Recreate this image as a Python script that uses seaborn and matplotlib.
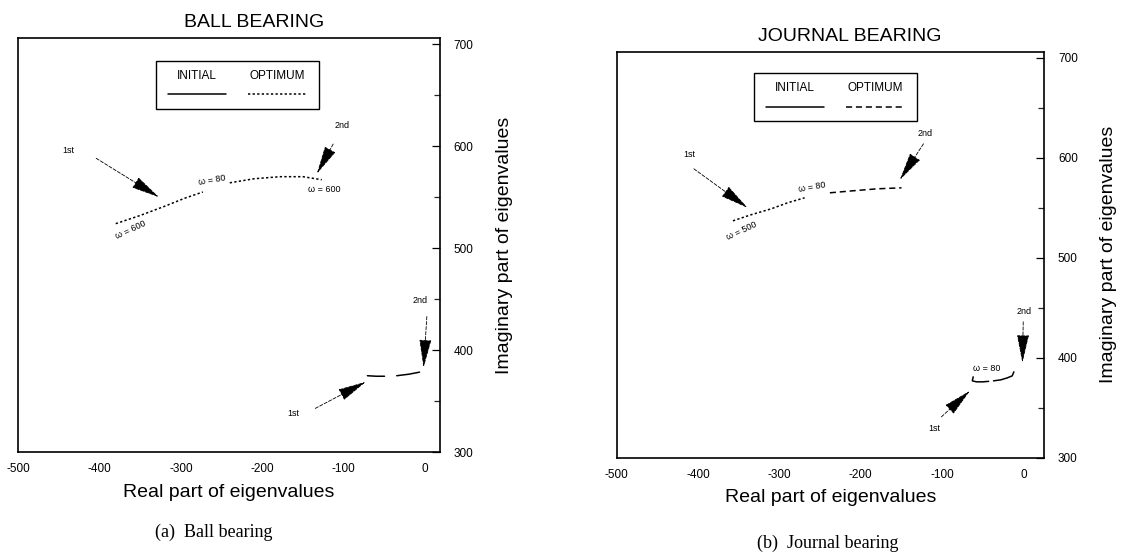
#!/usr/bin/env python3

import pandas as pd
import matplotlib.pyplot as plt
import seaborn as sns
from matplotlib.lines import Line2D
from matplotlib.offsetbox import (AnchoredOffsetbox, DrawingArea, HPacker,
                                  TextArea, VPacker)

# ball bearing: optimum (upper) and initial (lower) loci, 1st / 2nd mode
ball_opt_1st_x = [-380, -350, -320, -295, -273]
ball_opt_1st_y = [524, 532, 541, 549, 555]
ball_opt_2nd_x = [-240, -210, -178, -150, -127]
ball_opt_2nd_y = [564, 568, 570, 570, 567]
ball_init_1st_x = [-71, -60, -50]
ball_init_1st_y = [375, 374.5, 374.5]
ball_init_2nd_x = [-35, -20, -7]
ball_init_2nd_y = [375, 376.5, 378.5]

# journal bearing
jour_opt_1st_x = [-357, -335, -310, -290, -269]
jour_opt_1st_y = [537, 543, 549, 555, 560]
jour_opt_2nd_x = [-238, -210, -180, -150]
jour_opt_2nd_y = [565, 567, 569, 570]
jour_init_1st_x = [-62, -63, -58, -50, -43]
jour_init_1st_y = [381, 377, 376, 376, 376.5]
jour_init_2nd_x = [-37, -28, -20, -14, -12]
jour_init_2nd_y = [377, 378, 380, 382, 386]

# annotations: (text, text xy, arrow tail xy, arrow head xy)
ball_arrows = [
    ('1st', (-438, 596), (-404, 588), (-327, 550)),
    ('2nd', (-102, 620), (-113, 602), (-133, 573)),
    ('2nd', (-6, 449), (2, 433), (-2, 383)),
    ('1st', (-162, 338), (-135, 343), (-73, 369)),
]
jour_arrows = [
    ('1st', (-410, 603), (-405, 589), (-339, 550)),
    ('2nd', (-121, 624), (-123, 614), (-152, 578)),
    ('2nd', (1, 446), (-0.5, 436), (-1.5, 395)),
    ('1st', (-110, 329), (-101, 341), (-66, 367)),
]
# omega labels: (text, xy, rotation)
ball_omega = [('ω = 600', (-362, 518), 25), ('ω = 80', (-262, 567), 10),
              ('ω = 600', (-124, 557), 0)]
jour_omega = [('ω = 500', (-346, 527), 25), ('ω = 80', (-260, 571), 10),
              ('ω = 80', (-45, 389), 0)]


def frame(x, y):
    return pd.DataFrame({'x': x, 'y': y})


def draw_locus(ax, x, y, ls):
    sns.lineplot(x='x', y='y', data=frame(x, y), sort=False, estimator=None,
                 color='black', lw=1.1, linestyle=ls, ax=ax)


def add_legend(ax, opt_ls, anchor):
    cols = []
    for label, ls in [('INITIAL', '-'), ('OPTIMUM', opt_ls)]:
        da = DrawingArea(46, 8)
        da.add_artist(Line2D([2, 44], [4, 4], color='black', lw=1.1,
                             linestyle=ls))
        txt = TextArea(label, textprops=dict(size=8.5, color='black'))
        cols.append(VPacker(children=[txt, da], align='center', pad=0,
                            sep=5))
    box = HPacker(children=cols, align='center', pad=0, sep=12)
    anc = AnchoredOffsetbox(loc='upper center', child=box, pad=0.6,
                            frameon=True, bbox_to_anchor=anchor,
                            bbox_transform=ax.transAxes, borderpad=0)
    anc.patch.set_edgecolor('black')
    anc.patch.set_linewidth(1.0)
    ax.add_artist(anc)


def style_axes(ax, title, xmax, title_x):
    ax.set_xlim(-500, xmax)
    ax.set_ylim(300, 706)
    ax.set_xticks(range(-500, 1, 100))
    ax.set_yticks(range(300, 701, 100))
    ax.set_yticks(range(350, 700, 100), minor=True)
    ax.yaxis.tick_right()
    ax.yaxis.set_label_position('right')
    ax.tick_params(axis='both', which='major', direction='in', length=6,
                   width=0.9, labelsize=8.5, colors='black')
    ax.tick_params(axis='y', which='minor', direction='in', length=4,
                   width=0.9, right=True, left=False)
    ax.tick_params(axis='x', pad=8)
    ax.tick_params(axis='y', pad=10)
    for sp in ax.spines.values():
        sp.set_visible(True)
        sp.set_color('black')
        sp.set_linewidth(1.2)
    ax.set_xlabel('Real part of eigenvalues', fontsize=14, labelpad=6)
    ax.set_ylabel('Imaginary part of eigenvalues', fontsize=14, labelpad=16)
    ax.set_title(title, fontsize=14, pad=8, x=title_x)


def annotate(ax, arrows, omegas):
    for text, txy, tail, head in arrows:
        ax.text(*txy, text, fontsize=6.5, ha='center', va='center')
        ax.annotate('', xy=head, xytext=tail,
                    arrowprops=dict(arrowstyle='-|>,head_length=1.5,'
                                    'head_width=0.32', color='black',
                                    lw=0.6, linestyle=(0, (4, 2)),
                                    shrinkA=0, shrinkB=0,
                                    mutation_scale=12))
    for text, xy, rot in omegas:
        ax.text(*xy, text, fontsize=6.5, ha='center', va='center',
                rotation=rot)


def main():
    sns.set_theme(style='white')
    plt.rcParams['font.family'] = ['Liberation Sans', 'DejaVu Sans']
    plt.rcParams['text.color'] = 'black'
    plt.rcParams['axes.labelcolor'] = 'black'
    plt.rcParams['axes.unicode_minus'] = False

    fig = plt.figure(figsize=(11.25, 5.57), dpi=100)
    ax1 = fig.add_axes([0.016, 0.188, 0.375, 0.744])
    ax2 = fig.add_axes([0.548, 0.178, 0.380, 0.729])

    dotted = (0, (1.5, 1.5))
    dashed = (0, (4, 2.5))
    draw_locus(ax1, ball_opt_1st_x, ball_opt_1st_y, dotted)
    draw_locus(ax1, ball_opt_2nd_x, ball_opt_2nd_y, dotted)
    draw_locus(ax1, ball_init_1st_x, ball_init_1st_y, '-')
    draw_locus(ax1, ball_init_2nd_x, ball_init_2nd_y, '-')
    style_axes(ax1, 'BALL BEARING', 18, 0.56)
    annotate(ax1, ball_arrows, ball_omega)
    add_legend(ax1, dotted, (0.52, 0.945))

    draw_locus(ax2, jour_opt_1st_x, jour_opt_1st_y, dotted)
    draw_locus(ax2, jour_opt_2nd_x, jour_opt_2nd_y, dashed)
    draw_locus(ax2, jour_init_1st_x, jour_init_1st_y, '-')
    draw_locus(ax2, jour_init_2nd_x, jour_init_2nd_y, '-')
    style_axes(ax2, 'JOURNAL BEARING', 25, 0.546)
    annotate(ax2, jour_arrows, jour_omega)
    add_legend(ax2, dashed, (0.512, 0.948))

    fig.text(214 / 1125, 1 - 532 / 557, '(a)  Ball bearing',
             family='Liberation Serif', fontsize=13, ha='center',
             va='center')
    fig.text(828 / 1125, 1 - 543 / 557, '(b)  Journal bearing',
             family='Liberation Serif', fontsize=13, ha='center',
             va='center')

    fig.savefig('out.png', dpi=100, facecolor='white')


if __name__ == '__main__':
    main()
